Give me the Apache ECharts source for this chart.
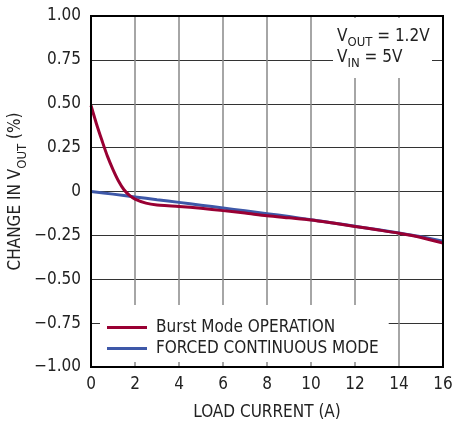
<!DOCTYPE html>
<html>
<head>
<meta charset="utf-8">
<script src="https://cdn.jsdelivr.net/npm/echarts@6/dist/echarts.min.js"></script>
<style>
  html, body { margin: 0; padding: 0; background: #fff; }
  #chart { width: 454px; height: 421px; }
</style>
</head>
<body>
<div id="chart"></div>
<script>
  // load current (A)
  const burstX = [0, 0.25, 0.5, 0.75, 1, 1.25, 1.5, 1.75, 2, 2.5, 3, 3.5, 4, 5, 6, 7, 8, 9, 10, 11, 12, 13, 14, 15, 16];
  const burstY = [0.49, 0.385, 0.29, 0.2, 0.125, 0.06, 0.01, -0.022, -0.043, -0.066, -0.077, -0.081, -0.085, -0.096, -0.109, -0.123, -0.138, -0.15, -0.162, -0.18, -0.199, -0.218, -0.238, -0.262, -0.294];
  const forcedX = [0, 1, 2, 3, 4, 5, 6, 7, 8, 9, 10, 11, 12, 13, 14, 15, 16];
  const forcedY = [0, -0.015, -0.031, -0.047, -0.062, -0.078, -0.094, -0.11, -0.126, -0.143, -0.161, -0.179, -0.198, -0.217, -0.237, -0.257, -0.283];
  const xTicks = [0, 2, 4, 6, 8, 10, 12, 14, 16];
  const yTicks = [-1, -0.75, -0.5, -0.25, 0, 0.25, 0.5, 0.75, 1];

  const font = '"Liberation Sans Narrow", "DejaVu Sans Condensed", "Liberation Sans", sans-serif';
  const burstColor = '#990033';
  const forcedColor = '#3e58a8';

  const chart = echarts.init(document.getElementById('chart'));

  const zip = (xs, ys) => xs.map((x, i) => [x, ys[i]]);

  const option = {
    animation: false,
    textStyle: { fontFamily: font },
    grid: { left: 91, right: 11, top: 16, bottom: 54, show: false, containLabel: false, outerBoundsMode: 'none' },
    legend: {
      orient: 'vertical',
      left: 100,
      top: 305,
      width: 283,
      padding: [14, 10, 5, 7],
      backgroundColor: '#fff',
      itemWidth: 40,
      itemHeight: 3,
      itemGap: 4,
      icon: 'rect',
      textStyle: { fontFamily: font, fontSize: 17, color: '#222', padding: [0, 0, 0, 4] },
      data: ['Burst Mode OPERATION', 'FORCED CONTINUOUS MODE']
    },
    xAxis: {
      type: 'value',
      min: 0, max: 16, interval: 2,
      name: 'LOAD CURRENT (A)',
      nameLocation: 'middle',
      nameGap: 37,
      nameTextStyle: { fontFamily: font, fontSize: 17, color: '#222' },
      axisLine: { show: true, onZero: false, lineStyle: { color: '#000', width: 2 } },
      axisTick: { show: false },
      axisLabel: {
        margin: 9, fontSize: 17, color: '#222', fontFamily: font,
        formatter: v => xTicks.includes(v) ? String(v) : ''
      },
      splitLine: { show: true, lineStyle: { color: '#888', width: 1.5 } }
    },
    yAxis: {
      type: 'value',
      min: -1, max: 1, interval: 0.25,
      name: '{m|CHANGE IN V}{s|OUT}{m| (%)}',
      nameLocation: 'middle',
      nameGap: 62,
      nameRotate: 90,
      nameMoveOverlap: false,
      nameTextStyle: {
        rich: {
          m: { fontFamily: font, fontSize: 17, color: '#222', lineHeight: 22, verticalAlign: 'top' },
          s: { fontFamily: font, fontSize: 13, color: '#222', lineHeight: 22, verticalAlign: 'bottom', padding: [6, 0, 0, 0] }
        }
      },
      axisLine: { show: true, onZero: false, lineStyle: { color: '#000', width: 2 } },
      axisTick: { show: false },
      axisLabel: {
        margin: 10, fontSize: 17, color: '#222', fontFamily: font,
        formatter: v => {
          if (!yTicks.some(t => Math.abs(t - v) < 1e-9)) return '';
          if (Math.abs(v) < 1e-9) return '0';
          return v.toFixed(2).replace('-', '\u2212');
        }
      },
      splitLine: { show: true, lineStyle: { color: '#333', width: 1 } }
    },
    graphic: [
      {
        type: 'rect',
        shape: { x: 91, y: 16, width: 352, height: 351 },
        style: { fill: 'none', stroke: '#000', lineWidth: 2 },
        z: 10, silent: true
      },
      {
        type: 'rect',
        shape: { x: 333, y: 18, width: 99, height: 60 },
        style: { fill: '#fff' },
        z: 5, silent: true
      },
      {
        type: 'text',
        left: 337, top: 28,
        style: {
          text: '{m|V}{s|OUT}{m| = 1.2V}\n{m|V}{s|IN}{m| = 5V}',
          rich: {
            m: { fontFamily: font, fontSize: 17, fill: '#222', lineHeight: 21, verticalAlign: 'top' },
            s: { fontFamily: font, fontSize: 13, fill: '#222', lineHeight: 21, verticalAlign: 'bottom', padding: [6, 0, 0, 0] }
          }
        },
        z: 6, silent: true
      }
    ],
    series: [
      {
        name: 'FORCED CONTINUOUS MODE',
        type: 'line',
        smooth: 0.3,
        showSymbol: false,
        data: zip(forcedX, forcedY),
        lineStyle: { color: forcedColor, width: 3 },
        itemStyle: { color: forcedColor },
        z: 3
      },
      {
        name: 'Burst Mode OPERATION',
        type: 'line',
        smooth: 0.3,
        showSymbol: false,
        data: zip(burstX, burstY),
        lineStyle: { color: burstColor, width: 3 },
        itemStyle: { color: burstColor },
        z: 4
      }
    ]
  };

  chart.setOption(option);
</script>
</body>
</html>
